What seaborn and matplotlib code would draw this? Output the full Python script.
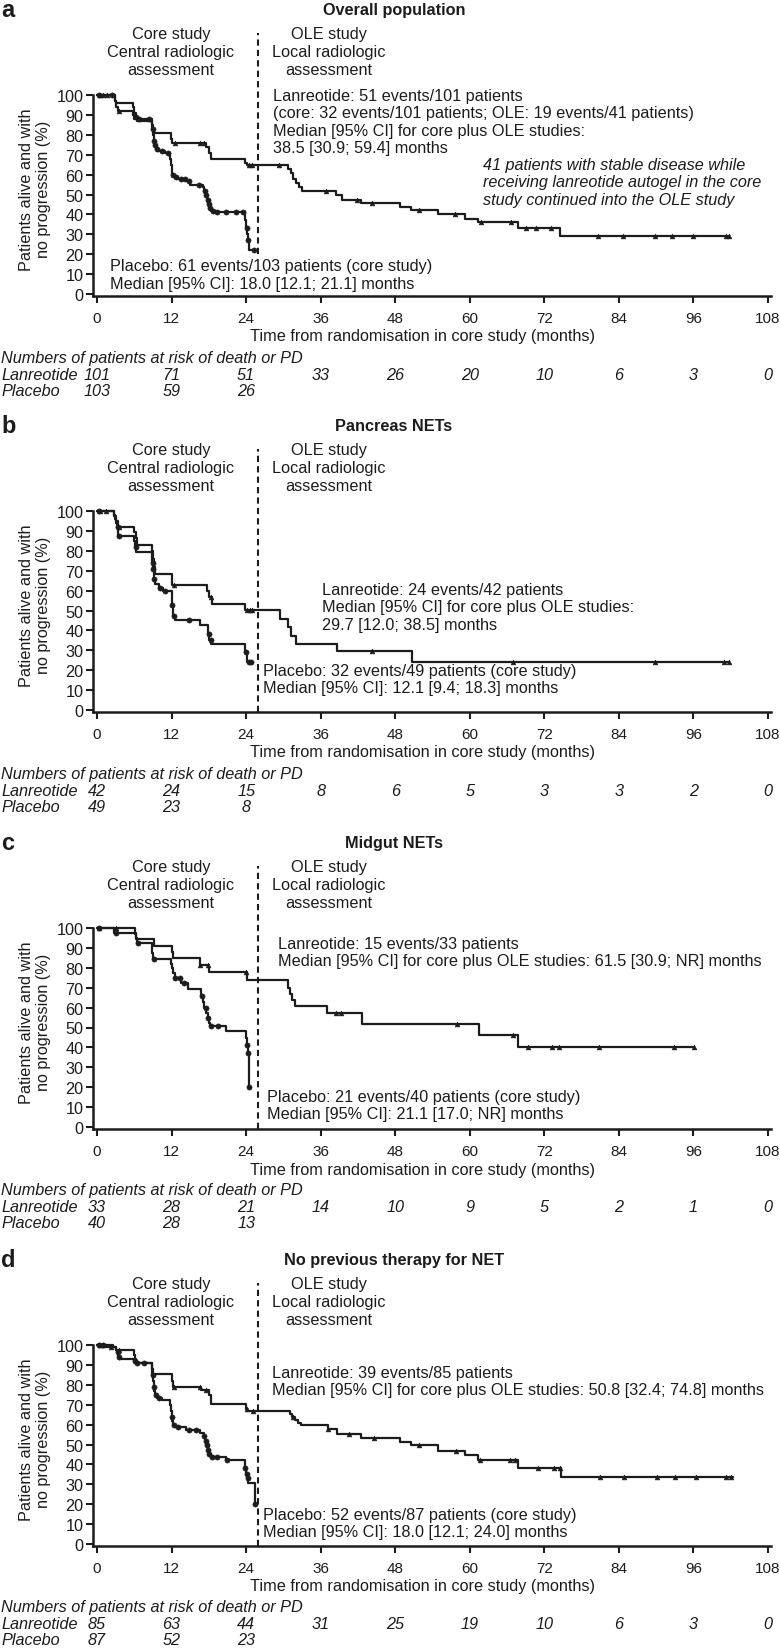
import numpy as np
import pandas as pd
import matplotlib
matplotlib.use("Agg")
import matplotlib.pyplot as plt
import seaborn as sns

sns.set_theme(style="ticks")
plt.rcParams["font.family"] = ["Liberation Sans", "DejaVu Sans"]

INK = "#1c1c1c"

# ---------------- data ----------------
panel_letters = ["a", "b", "c", "d"]
panel_titles = ["Overall population", "Pancreas NETs", "Midgut NETs",
                "No previous therapy for NET"]

# Panel a
a_lan_t = [2.9, 3.1, 3.3, 5.8, 6.0, 6.5, 8.8, 9.0, 9.2, 11.9, 12.1, 17.5, 18.0, 18.4, 23.9, 24.2,
           30.7, 31.2, 31.6, 32.0, 32.5, 33.0, 38.5, 39.5, 42.5, 48.8, 50.6, 54.9, 59.3, 61.4, 67.7, 74.6]
a_lan_s = [97, 94, 92, 90, 88, 87, 85, 83, 81, 78, 76, 74, 71, 68, 66, 65,
           63, 61, 58, 56, 54, 52, 49.7, 47.3, 45.8, 43.6, 42.0, 40.0, 37.8, 36.1, 33.3, 29.1]
a_lan_end = 101.7
a_lan_cens = [0.5, 1.0, 1.6, 3.6, 12.5, 16.5, 17.2, 24.5, 25.0, 29.3, 36.8, 41.8, 44.3, 51.9, 57.7,
              61.8, 66.6, 69.1, 70.7, 73.1, 80.6, 84.6, 89.8, 92.6, 96.0, 101.2, 101.7]
a_pla_t = [2.9, 3.0, 5.8, 6.0, 6.2, 6.5, 8.8, 8.9, 9.0, 9.1, 9.3, 9.5, 9.8, 11.0, 11.8, 11.9, 12.0,
           12.1, 12.4, 13.0, 14.5, 15.0, 17.0, 17.3, 17.5, 17.7, 17.9, 18.1, 18.3, 19.0, 23.9, 24.0,
           24.2, 24.3, 24.4]
a_pla_s = [97, 96, 94, 91, 89, 88, 86, 83, 80, 77, 75, 73, 72, 71, 68, 65, 62,
           60, 59, 58, 57, 55, 54, 52, 50, 47, 45, 43, 41.5, 41, 37, 33,
           30, 27, 22]
a_pla_end = 25.3
a_pla_cens = [0.4, 2.4, 6.3, 6.8, 8.4, 8.95, 9.2, 9.4, 9.7, 10.5, 11.4, 12.25, 12.7, 13.5, 14.2,
              14.8, 16.4, 17.4, 17.6, 17.8, 18.0, 18.2, 18.6, 19.3, 20.8, 22.4, 23.5, 24.1, 24.35, 25.3]

# Panel b
b_lan_t = [2.8, 3.0, 3.3, 6.0, 6.2, 6.4, 8.8, 9.0, 9.2, 9.3, 12.1, 17.7, 18.1, 18.5, 23.9, 29.5,
           30.8, 31.2, 32.1, 38.6, 50.7]
b_lan_s = [97.6, 95.2, 92.0, 89.5, 86.5, 82.8, 80, 76, 72, 68.5, 63, 60, 57, 53.5, 50.3, 45.8,
           41.6, 37.4, 33.2, 29.5, 24.0]
b_lan_end = 101.7
b_lan_cens = [0.5, 1.5, 3.6, 12.4, 18.3, 24.2, 24.6, 25.0, 44.3, 66.9, 89.8, 100.9, 101.7]
b_pla_t = [2.8, 2.9, 3.0, 3.2, 3.4, 6.0, 6.1, 6.3, 8.8, 8.9, 9.0, 9.1, 9.2, 9.3, 10.0, 10.7,
           12.0, 12.1, 12.2, 12.3, 12.5, 16.5, 17.9, 18.1, 18.4, 23.9, 24.2]
b_pla_s = [98, 96, 94, 92, 87.5, 85, 82, 79.5, 77, 74, 71, 68, 66, 63.5, 61.5, 59.6,
           57, 53, 50, 47, 45, 42.8, 38, 35, 33, 29, 24]
b_pla_end = 24.8
b_pla_cens = [0.3, 3.3, 3.6, 6.2, 8.95, 9.05, 9.25, 10.2, 11.0, 12.15, 12.4, 14.8, 18.0, 18.3,
              24.0, 24.4, 24.8]

# Panel c
c_lan_t = [6.1, 6.3, 9.2, 12.0, 12.2, 16.5, 18.0, 24.1, 30.8, 31.1, 31.4, 31.8, 37.0, 42.6, 61.5, 67.8]
c_lan_s = [97, 94.5, 91, 88, 84.8, 81.5, 78, 74, 70, 67, 64, 61, 57.5, 52, 46, 40]
c_lan_end = 96.1
c_lan_cens = [0.4, 3.0, 16.6, 17.9, 24.0, 38.5, 39.3, 57.9, 66.9, 69.3, 73.3, 74.4, 80.8, 92.9, 96.1]
c_pla_t = [2.7, 6.2, 6.4, 8.8, 8.9, 9.0, 11.9, 12.0, 12.2, 12.5, 13.6, 14.7, 16.8, 17.0, 17.3,
           17.6, 17.8, 18.0, 18.2, 20.8, 24.0, 24.1, 24.3, 24.4]
c_pla_s = [97.5, 95, 92.5, 90, 87.5, 84.5, 82, 80, 77.5, 75, 72.5, 69.5, 66, 63, 60,
           57.5, 55, 52.5, 51, 48, 44.5, 41, 37, 20]
c_pla_end = 24.5
c_pla_cens = [0.3, 3.0, 6.6, 9.1, 12.6, 13.3, 14.0, 16.9, 17.5, 17.9, 18.3, 19.5, 24.15, 24.35, 24.5]

# Panel d
d_lan_t = [1.5, 3.0, 6.0, 6.1, 6.2, 8.9, 9.0, 12.1, 12.2, 16.7, 18.1, 18.3, 18.4, 24.0, 24.2,
           31.0, 31.4, 31.8, 32.3, 32.8, 37.1, 38.7, 42.5, 48.8, 50.6, 54.9, 59.3, 61.4, 67.7, 74.7]
d_lan_s = [98.8, 97.6, 95, 93, 91, 88, 85.5, 82, 79, 77.5, 75, 73, 70.5, 68, 67,
           65.5, 64, 62.5, 61, 59.7, 57.6, 55.3, 53.4, 51.4, 49.7, 46.7, 44.7, 42.2, 38.4, 33.8]
d_lan_end = 102.4
d_lan_cens = [0.5, 1.0, 2.2, 3.5, 12.4, 16.6, 17.5, 24.1, 25.1, 31.5, 37.1, 40.6, 44.6, 51.9, 57.8,
              61.7, 66.5, 67.2, 71.0, 73.5, 74.5, 81.0, 84.9, 90.2, 93.0, 96.4, 101.3, 102.1]
d_pla_t = [2.6, 3.0, 3.2, 3.4, 3.6, 6.0, 6.3, 8.8, 8.9, 9.0, 9.1, 9.2, 9.4, 9.6, 10.5, 11.8, 11.9,
           12.0, 12.1, 12.3, 12.6, 14.3, 16.6, 17.2, 17.4, 17.6, 17.8, 18.0, 18.3, 20.8, 23.9, 24.0,
           24.2, 24.3, 25.4]
d_pla_s = [98.9, 97.7, 96.5, 94.2, 93.1, 91.9, 90.8, 88.5, 85, 82, 79, 77, 75, 73.5, 72.4, 70, 67,
           64, 62, 60, 59, 57.5, 56, 54.5, 52, 49.5, 47, 45, 43.5, 42, 38, 35,
           33, 30.5, 20]
d_pla_end = 25.4
d_pla_cens = [0.3, 1.0, 3.3, 3.5, 6.1, 6.5, 7.5, 8.95, 9.15, 9.5, 10.0, 12.05, 12.4, 13.0, 14.8,
              16.0, 17.3, 17.5, 17.7, 17.9, 18.1, 18.5, 19.3, 21.0, 23.9, 24.1, 24.25, 25.4]

# Numbers at risk
risk_months = [0, 12, 24, 36, 48, 60, 72, 84, 96, 108]
a_risk_lan = [101, 71, 51, 33, 26, 20, 10, 6, 3, 0]
a_risk_pla = [103, 59, 26]
b_risk_lan = [42, 24, 15, 8, 6, 5, 3, 3, 2, 0]
b_risk_pla = [49, 23, 8]
c_risk_lan = [33, 28, 21, 14, 10, 9, 5, 2, 1, 0]
c_risk_pla = [40, 28, 13]
d_risk_lan = [85, 63, 44, 31, 25, 19, 10, 6, 3, 0]
d_risk_pla = [87, 52, 23]

# Annotation texts
a_lan_text = ("Lanreotide: 51 events/101 patients\n"
              "(core: 32 events/101 patients; OLE: 19 events/41 patients)\n"
              "Median [95% CI] for core plus OLE studies:\n"
              "38.5 [30.9; 59.4] months")
a_pla_text = ("Placebo: 61 events/103 patients (core study)\n"
              "Median [95% CI]: 18.0 [12.1; 21.1] months")
a_note_text = ("41 patients with stable disease while\n"
               "receiving lanreotide autogel in the core\n"
               "study continued into the OLE study")
b_lan_text = ("Lanreotide: 24 events/42 patients\n"
              "Median [95% CI] for core plus OLE studies:\n"
              "29.7 [12.0; 38.5] months")
b_pla_text = ("Placebo: 32 events/49 patients (core study)\n"
              "Median [95% CI]: 12.1 [9.4; 18.3] months")
c_lan_text = ("Lanreotide: 15 events/33 patients\n"
              "Median [95% CI] for core plus OLE studies: 61.5 [30.9; NR] months")
c_pla_text = ("Placebo: 21 events/40 patients (core study)\n"
              "Median [95% CI]: 21.1 [17.0; NR] months")
d_lan_text = ("Lanreotide: 39 events/85 patients\n"
              "Median [95% CI] for core plus OLE studies: 50.8 [32.4; 74.8] months")
d_pla_text = ("Placebo: 52 events/87 patients (core study)\n"
              "Median [95% CI]: 18.0 [12.1; 24.0] months")

core_text = "Core study\nCentral radiologic\nassessment"
ole_text = "OLE study\nLocal radiologic\nassessment"
ylabel_text = "Patients alive and with\nno progression (%)"
xlabel_text = "Time from randomisation in core study (months)"
risk_header = "Numbers of patients at risk of death or PD"

panels = [
    dict(lan=(a_lan_t, a_lan_s, a_lan_end, a_lan_cens), pla=(a_pla_t, a_pla_s, a_pla_end, a_pla_cens),
         risk=(a_risk_lan, a_risk_pla), y0=295, dash_bottom=20,
         texts=[(a_lan_text, 28.3, 86.7, "normal"), (a_pla_text, 2.1, 9.8, "normal"),
                (a_note_text, 62.1, 56.3, "italic")]),
    dict(lan=(b_lan_t, b_lan_s, b_lan_end, b_lan_cens), pla=(b_pla_t, b_pla_s, b_pla_end, b_pla_cens),
         risk=(b_risk_lan, b_risk_pla), y0=711, dash_bottom=-1,
         texts=[(b_lan_text, 36.2, 51.8, "normal"), (b_pla_text, 26.7, 15.6, "normal")]),
    dict(lan=(c_lan_t, c_lan_s, c_lan_end, c_lan_cens), pla=(c_pla_t, c_pla_s, c_pla_end, c_pla_cens),
         risk=(c_risk_lan, c_risk_pla), y0=1128, dash_bottom=-1,
         texts=[(c_lan_text, 29.1, 87.9, "normal"), (c_pla_text, 27.3, 11.0, "normal")]),
    dict(lan=(d_lan_t, d_lan_s, d_lan_end, d_lan_cens), pla=(d_pla_t, d_pla_s, d_pla_end, d_pla_cens),
         risk=(d_risk_lan, d_risk_pla), y0=1545, dash_bottom=-1,
         texts=[(d_lan_text, 28.2, 81.9, "normal"), (d_pla_text, 26.7, 10.5, "normal")]),
]

# ---------------- layout ----------------
W, H = 780, 1649
PX_X = 6.213           # pixels per month
X0_PX = 97             # pixel of month 0
PX_Y = 1.99            # pixels per % unit
AX_L, AX_R = 93, 771
YMIN, YMAX = -1, 132
XMIN = (AX_L - X0_PX) / PX_X
XMAX = (AX_R - X0_PX) / PX_X
OLE_X = 25.9
FS = 11.7


def px2month(px):
    return (px - X0_PX) / PX_X


def km(ax, t, s, end, cens, marker, ms):
    tt = np.array([0.0] + list(t) + [end])
    ss = np.array([100.0] + list(s) + [s[-1]])
    df = pd.DataFrame({"t": tt, "s": ss})
    sns.lineplot(data=df, x="t", y="s", drawstyle="steps-post", estimator=None, sort=False,
                 color=INK, lw=1.6, ax=ax, clip_on=False)
    c = np.asarray(cens)
    idx = np.searchsorted(tt, c, side="right") - 1
    cdf = pd.DataFrame({"t": c, "s": ss[idx]})
    sns.scatterplot(data=cdf, x="t", y="s", marker=marker, s=ms, color=INK, edgecolor=INK,
                    linewidth=0.4, ax=ax, zorder=4, clip_on=False)


fig = plt.figure(figsize=(W / 100, H / 100), dpi=100)

for i, p in enumerate(panels):
    y0 = p["y0"]
    bottom = 1 - (y0 - YMIN * PX_Y) / H
    height = (YMAX - YMIN) * PX_Y / H
    ax = fig.add_axes([AX_L / W, bottom, (AX_R - AX_L) / W, height])
    ax.set_facecolor("none")

    km(ax, *p["pla"], marker="o", ms=14)
    km(ax, *p["lan"], marker="^", ms=12)

    ax.plot([OLE_X, OLE_X], [p["dash_bottom"], 131], color=INK, lw=1.5, dashes=(3, 2),
            clip_on=False)

    ax.set_xlim(XMIN, XMAX)
    ax.set_ylim(YMIN, YMAX)
    ax.set_xticks(range(0, 109, 12))
    ax.set_yticks(range(0, 101, 10))
    ax.set_xlabel("")
    ax.set_ylabel("")
    for side in ["top", "right"]:
        ax.spines[side].set_visible(False)
    ax.spines["left"].set_bounds(YMIN, 100)
    for side in ["left", "bottom"]:
        ax.spines[side].set_linewidth(1.8)
        ax.spines[side].set_color(INK)
    ax.tick_params(axis="y", length=5, width=1.5, pad=2, labelsize=FS, colors=INK)
    ax.tick_params(axis="x", length=5, width=1.5, pad=6, labelsize=11, colors=INK)

    # header texts
    ax.text(px2month(1), 143.2, panel_letters[i], fontsize=17, fontweight="bold", ha="left",
            va="center", color=INK, clip_on=False)
    ax.text(px2month(394), 143.2, panel_titles[i], fontsize=FS, fontweight="bold", ha="center",
            va="center", color=INK, clip_on=False)
    ax.text(px2month(171), 121.8, core_text, fontsize=FS, ha="center", va="center",
            multialignment="center", linespacing=1.22, color=INK, clip_on=False)
    ax.text(px2month(328.5), 121.8, ole_text, fontsize=FS, ha="center", va="center",
            multialignment="center", linespacing=1.22, color=INK, clip_on=False)

    for txt, tx, ty, style in p["texts"]:
        ax.text(tx, ty, txt, fontsize=FS, ha="left", va="center", style=style,
                linespacing=1.22, color=INK, clip_on=False)

    ax.text(px2month(35), 53, ylabel_text, fontsize=FS, rotation=90, ha="center", va="center",
            multialignment="center", linespacing=1.2, color=INK, clip_on=False)
    ax.text(px2month(423), -42 / PX_Y, xlabel_text, fontsize=FS, ha="center", va="center",
            color=INK, clip_on=False)

    # risk table
    ax.text(px2month(1), -63 / PX_Y, risk_header, fontsize=FS, style="italic", ha="left",
            va="center", color=INK, clip_on=False)
    lan_r, pla_r = p["risk"]
    ax.text(px2month(1), -80 / PX_Y, "Lanreotide", fontsize=FS, style="italic", ha="left",
            va="center", color=INK, clip_on=False)
    ax.text(px2month(1), -96 / PX_Y, "Placebo", fontsize=FS, style="italic", ha="left",
            va="center", color=INK, clip_on=False)
    for m, v in zip(risk_months, lan_r):
        ax.text(m, -80 / PX_Y, str(v), fontsize=FS, style="italic", ha="center", va="center",
                color=INK, clip_on=False)
    for m, v in zip(risk_months, pla_r):
        ax.text(m, -96 / PX_Y, str(v), fontsize=FS, style="italic", ha="center", va="center",
                color=INK, clip_on=False)

fig.savefig("out.png", dpi=100, facecolor="white")
